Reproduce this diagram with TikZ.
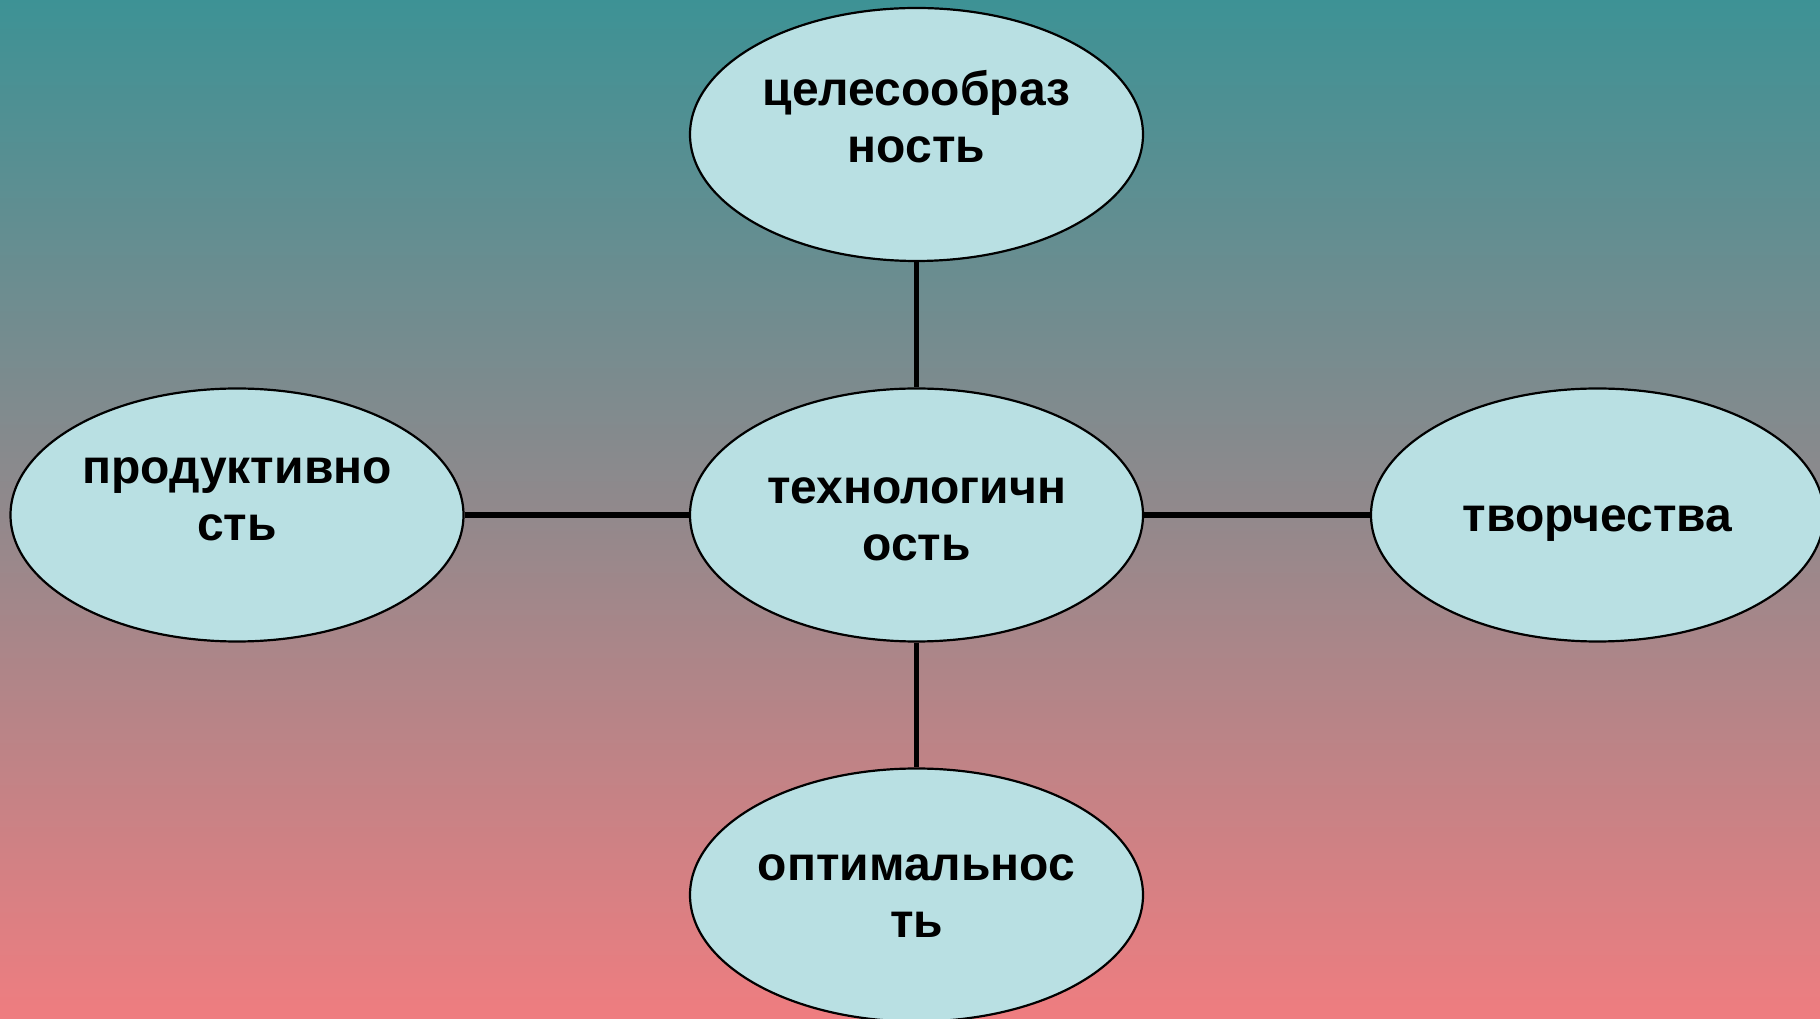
\documentclass[tikz,border=0pt]{standalone}
\usepackage{fontspec}
\setmainfont{Liberation Sans}
\usetikzlibrary{shapes.geometric}
\definecolor{bgtop}{RGB}{61,146,149}
\definecolor{bgmid}{RGB}{145,137,140}
\definecolor{bgbot}{RGB}{239,125,128}
\definecolor{ellfill}{RGB}{185,224,227}
\tikzset{
  bubble/.style={ellipse, draw=black, line width=1.1pt, fill=ellfill,
    minimum width=453pt*0.5, minimum height=253pt*0.5, inner sep=0pt},
  label text/.style={font=\bfseries\fontsize{24pt}{28.5pt}\selectfont, align=center, text=black, inner sep=0pt},
  link/.style={line width=2.8pt, draw=black}
}
\begin{document}
\begin{tikzpicture}[x=0.5pt,y=0.5pt]
\useasboundingbox (0,0) rectangle (1820,1018);
\clip (0,0) rectangle (1820,1018);
\shade[top color=bgtop, bottom color=bgbot, middle color=bgmid] (0,0) rectangle (1820,1018);
% ellipses (y = 1018 - pixel y)
\node[bubble] (top) at (916.5,883.5) {};
\node[bubble] (ctr) at (916.5,503) {};
\node[bubble] (lft) at (237,503) {};
\node[bubble] (rgt) at (1597.5,503) {};
\node[bubble] (bot) at (916.5,123) {};
% connectors
\draw[link] (top.south) -- (ctr.north);
\draw[link] (ctr.south) -- (bot.north);
\draw[link] (lft.east) -- (ctr.west);
\draw[link] (ctr.east) -- (rgt.west);
% labels
\node[label text] (topt) at (916.5,901) {целесообраз\\ность};
\node[label text] (ctrt) at (916.5,499) {технологичн\\ость};
\node[label text] (lftt) at (237,519) {продуктивно\\сть};
\node[label text] (rgtt) at (1597.5,494) {творчества};
\node[label text] (bott) at (916.5,122) {оптимальнос\\ть};
\end{tikzpicture}
\end{document}
